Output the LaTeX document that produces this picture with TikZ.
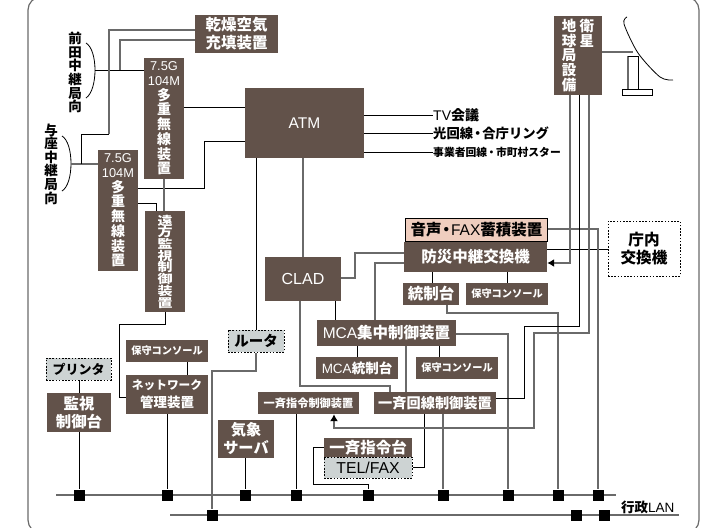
\documentclass[tikz,border=0pt]{standalone}
\usepackage{fontspec}
\setmainfont{Noto Sans CJK JP}
\newfontfamily\latfont{Liberation Sans}
\newfontfamily\widefont{Noto Sans CJK JP}[FakeStretch=1.25]
\usetikzlibrary{positioning, calc, arrows.meta}

\definecolor{boxbrown}{HTML}{62524A}
\definecolor{boxpink}{HTML}{EFCDBE}
\definecolor{boxgray}{HTML}{CDD3D3}
\definecolor{linegray}{HTML}{6A6A6A}

\newcommand{\fs}[2]{\fontsize{#1}{#2}\selectfont\bfseries\lineskiplimit=-20pt }
\newcommand{\ltn}[1]{{\mdseries\latfont #1}}
\newcommand{\smltn}[1]{{\fs{12.8}{14.7}\ltn{#1}}}

\tikzset{
	brownbox/.style={fill=boxbrown, text=white, inner sep=0pt, align=center},
	dashbox/.style={draw=black, line width=1pt, dash pattern=on 1.6pt off 1.6pt, inner sep=0pt, align=center},
	lnk/.style={draw=black, line width=0.8pt},
	glnk/.style={draw=linegray, line width=1.2pt},
	tip/.style={-{Latex[length=7pt,width=8pt,black]}},
	sq/.style={fill=black, minimum size=11pt, inner sep=0pt},
	tag/.style={inner sep=0pt, anchor=west}
}

\begin{document}
\begin{tikzpicture}[x=1pt, y=-1pt]
	\useasboundingbox (0,0) rectangle (716,528);
	\draw [linegray, line width=1.2pt, rounded corners=13pt] (28,-3) rectangle (699,533);

	% LAN lines
	\coordinate (lanA) at (56,495);
	\coordinate (lanB) at (616,495);
	\coordinate (lanC) at (170,515);
	\coordinate (lanD) at (679,515);
	\draw [glnk] (lanA) -- (lanB);
	\draw [glnk] (lanC) -- (lanD);
	\node (p1) [sq] at (79,495) {};
	\node (p2) [sq] at (167,495) {};
	\node (p3) [sq] at (245,495) {};
	\node (p4) [sq] at (296,495) {};
	\node (p5) [sq] at (368,495) {};
	\node (p6) [sq] at (443,495) {};
	\node (p7) [sq] at (508,495) {};
	\node (p8) [sq] at (558,495) {};
	\node (p9) [sq] at (598,495) {};
	\node (q1) [sq] at (212,515) {};
	\node (q2) [sq] at (576,515) {};
	\node (q3) [sq] at (604,515) {};

	% boxes
	\node (dry) [brownbox, minimum width=83pt, minimum height=38pt, font=\fs{15.5}{18}] at (236.5,34) {乾燥空気\\充填装置};
	\node (mux1) [brownbox, minimum width=40pt, minimum height=121pt, font=\fs{14}{14.7}] at (164,118.5) {\smltn{7.5G}\\\smltn{104M}\\多\\重\\無\\線\\装\\置};
	\node (mux2) [brownbox, minimum width=40pt, minimum height=121pt, font=\fs{14}{14.7}] at (118,210.5) {\smltn{7.5G}\\\smltn{104M}\\多\\重\\無\\線\\装\\置};
	\node (atm) [brownbox, minimum width=119pt, minimum height=70pt, font=\fs{15.5}{18}] at (304.5,123) {\ltn{ATM}};
	\node (remote) [brownbox, minimum width=40pt, minimum height=101pt, font=\widefont\fs{12}{11.7}] at (165,261.5) {遠\\方\\監\\視\\制\\御\\装\\置};
	\node (clad) [brownbox, minimum width=76pt, minimum height=44pt, font=\fs{16}{18}] at (303,279) {\ltn{CLAD}};
	\node (store) [draw=black, line width=1pt, fill=boxpink, inner sep=0pt, minimum width=142pt, minimum height=23pt, font=\fs{15.5}{18}] at (476.5,230) {音声\kern-3pt・\kern-3pt\ltn{FAX}蓄積装置};
	\node (bosai) [brownbox, minimum width=143pt, minimum height=30pt, font=\fs{15.5}{18}] at (475.5,257) {防災中継交換機};
	\node (tosei) [brownbox, minimum width=56pt, minimum height=22pt, font=\fs{15.5}{18}] at (431,294) {統制台};
	\node (hoshu1) [brownbox, minimum width=82pt, minimum height=22pt, font=\fs{10.2}{12}] at (507,294) {保守コンソール};
	\node (mcac) [brownbox, minimum width=139pt, minimum height=26pt, font=\fs{15.5}{18}] at (386.5,333) {\ltn{MCA}集中制御装置};
	\node (mcat) [brownbox, minimum width=82pt, minimum height=22pt, font=\fs{13.5}{16}] at (357,368) {\ltn{MCA}統制台};
	\node (hoshu2) [brownbox, minimum width=82pt, minimum height=22pt, font=\fs{10.2}{12}] at (457,368) {保守コンソール};
	\node (ikkai) [brownbox, minimum width=122pt, minimum height=22pt, font=\fs{14.2}{16}] at (435,403) {一斉回線制御装置};
	\node (ikshi) [brownbox, minimum width=101pt, minimum height=22pt, font=\fs{11.2}{13}] at (308.5,403) {一斉指令制御装置};
	\node (ikdai) [brownbox, minimum width=88pt, minimum height=19pt, font=\fs{15.5}{18}] at (368,447.5) {一斉指令台};
	\node (telfax) [dashbox, fill=boxgray, minimum width=88pt, minimum height=21pt, font=\fs{15.8}{18}] at (368,467.5) {\ltn{TEL/FAX}};
	\node (kisho) [brownbox, minimum width=56pt, minimum height=38pt, font=\fs{15.2}{18}] at (246,439) {気象\\サーバ};
	\node (router) [dashbox, fill=boxgray, minimum width=56pt, minimum height=22pt, font=\fs{14.5}{16}] at (256,341) {ルータ};
	\node (netk) [brownbox, minimum width=82pt, minimum height=39pt, font=\fs{13.5}{18}] at (167,394.5) {{\fs{11.7}{18}ネットワーク}\\管理装置};
	\node (hoshu3) [brownbox, minimum width=82pt, minimum height=22pt, font=\fs{10.2}{12}] at (167,351) {保守コンソール};
	\node (printer) [dashbox, fill=boxgray, minimum width=65pt, minimum height=22pt, font=\fs{13}{16}] at (78.5,369) {プリンタ};
	\node (kanshi) [brownbox, minimum width=64pt, minimum height=39pt, font=\fs{15.4}{18}] at (79,412.5) {監視\\制御台};
	\node (sat) [brownbox, minimum width=48pt, minimum height=79pt, font=\fs{14.5}{14.8}] at (578,55.5) {地\kern3.5pt 衛\\球\kern3.5pt 星\\局\kern3.5pt\phantom{衛}\\設\kern3.5pt\phantom{衛}\\備\kern3.5pt\phantom{衛}};
	\node (chonai) [dashbox, minimum width=72pt, minimum height=55pt, font=\fs{15.6}{18}] at (644,248.5) {庁内\\交換機};

	% labels
	\node (maeda) [inner sep=0pt, align=center, font=\fs{13.5}{13.6}] at (75,72.5) {前\\田\\中\\継\\局\\向};
	\node (yoza) [inner sep=0pt, align=center, font=\fs{13.5}{13.6}] at (51,164) {与\\座\\中\\継\\局\\向};
	\node (tv) [tag, font=\fs{14}{16}] at (433,115.5) {\ltn{TV}会議};
	\node (hikari) [tag, font=\fs{13.3}{16}] at (433,133.5) {光回線\kern-2pt・\kern-2pt合庁リング};
	\node (jigyo) [tag, font=\fs{10.8}{13}] at (433,152) {事業者回線\kern-1pt・\kern-1pt市町村スター};
	\node (gyosei) [tag, font=\fs{13.5}{16}] at (621,507) {行政\ltn{LAN}};

	% relay curves
	\coordinate (maedaC) at (95,70);
	\coordinate (yozaC) at (71,164);
	\draw [line width=0.8pt] (86,43) .. controls (98,50) and (98,90) .. (86,98);
	\draw [line width=0.8pt] (62,136) .. controls (74,143) and (74,184) .. (62,191);
	\draw [lnk] (maedaC) -- (mux1.west |- maedaC);
	\draw [glnk] (yozaC) -- (mux2.west |- yozaC);
	\draw [glnk] (120,70) |- (dry.west |- 0,40);
	\draw [lnk] (81,164) |- (109,134);
	\draw [glnk] (109,134) |- (dry.west |- 0,30);

	% ATM
	\draw [lnk] (mux1.east |- 0,107) -- (atm.west |- 0,107);
	\draw [lnk] (mux2.east |- 0,188) -| (204,141) -- (atm.west |- 0,141);
	\draw [lnk] (mux2.east |- 0,203) -| (remote.north -| 156,0);
	\draw [glnk] (mux1.south) -- (remote.north -| mux1.south);
	\draw [lnk] (atm.east |- tv.west) -- (tv.west);
	\draw [lnk] (atm.east |- hikari.west) -- (hikari.west);
	\draw [lnk] (atm.east |- jigyo.west) -- (jigyo.west);
	\draw [glnk] (atm.south -| clad.north) -- (clad.north);
	\draw [lnk] (atm.south -| 256,0) -- (router.north -| 256,0);
	\draw [glnk] (router.south) |- (212,371) -- (q1.north);

	% left side
	\draw [lnk] (remote.south) |- (119,324) |- (netk.west |- 0,397);
	\draw [lnk] (hoshu3.south -| 187,0) -- (netk.north -| 187,0);
	\draw [lnk] (netk.south) -- (p2.north);
	\draw [lnk] (printer.south -| kanshi.north) -- (kanshi.north);
	\draw [lnk] (kanshi.south) -- (p1.north);
	\draw [lnk] (kisho.south -| p3) -- (p3.north);

	% CLAD and MCA
	\draw [glnk] (bosai.west |- 0,253) -| (355,278) -- (clad.east |- 0,278);
	\draw [glnk] (bosai.west |- 0,263) -| (mcac.north -| 375,0);
	\draw [lnk] (clad.south -| 335,0) -- (mcac.north -| 335,0);
	\draw [glnk] (clad.south -| 300,0) |- (390,386) -- (ikkai.north -| 390,0);
	\draw [lnk] (mcac.south -| mcat.north) -- (mcat.north);
	\draw [lnk] (mcac.south -| 439,0) -- (hoshu2.north -| 439,0);
	\draw [glnk] (mcac.south -| 406,0) -- (ikkai.north -| 406,0);
	\draw [glnk] (mcac.east |- 0,334) -| (p7.north);

	% lower lines
	\draw [lnk] (ikshi.south -| p4) -- (p4.north);
	\draw [lnk] (ikdai.west |- 0,447) -| (313,484) -| (p5.north);
	\draw [lnk] (ikkai.south -| 424,0) |- (telfax.east);
	\draw [glnk] (ikkai.south -| p6) -- (p6.north);

	% switch
	\draw [lnk] (bosai.south -| 432,0) -- (tosei.north -| 432,0);
	\draw [lnk] (bosai.south -| 507,0) -- (hoshu1.north -| 507,0);
	\draw [glnk] (tosei.south -| 447,0) |- (558,313) -- (p8.north);
	\draw [lnk] (bosai.east |- 0,249) -- (chonai.west |- 0,249);
	\draw [glnk] (store.east |- 0,229) -| (p9.north);

	% satellite
	\draw [glnk, tip] (sat.south -| 570,0) |- (bosai.east |- 0,263);
	\draw [lnk] (sat.south -| 579,0) |- (524,326) |- (ikkai.east |- 0,398);
	\draw [glnk, tip] (sat.south -| 589,0) |- (534,333) |- (334,428) -- (ikshi.south -| 334,0);
	\draw [glnk] (sat.east |- 0,52) -- (633,52);
	\draw [line width=0.8pt] plot [smooth] coordinates {(627,17) (624,24) (638,53) (660,77) (673,80)};
	\draw [glnk] (628,89) -- (628,56);
	\draw [lnk] (628,56) -- (638,56) -- (638,89);
	\draw [line width=0.8pt] (622,89) rectangle (652,95);
\end{tikzpicture}
\end{document}
